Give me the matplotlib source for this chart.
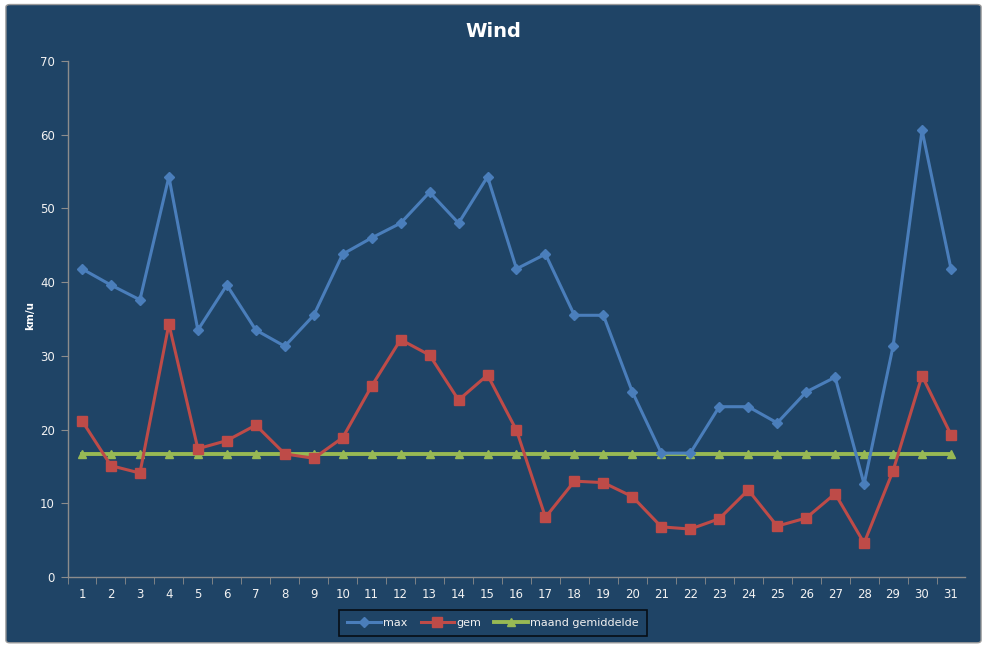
import matplotlib
matplotlib.use("Agg")
import matplotlib.pyplot as plt
from matplotlib.patches import FancyBboxPatch

days = list(range(1, 32))
wind_max = [41.8, 39.6, 37.6, 54.3, 33.5, 39.6, 33.5, 31.3, 35.5, 43.8,
            46.0, 48.0, 52.2, 48.0, 54.3, 41.8, 43.8, 35.5, 35.5, 25.1,
            16.8, 16.8, 23.1, 23.1, 20.9, 25.1, 27.1, 12.6, 31.3, 60.6, 41.8]
wind_gem = [21.2, 15.1, 14.1, 34.3, 17.4, 18.5, 20.6, 16.7, 16.1, 18.9,
            25.9, 32.2, 30.1, 24.0, 27.4, 19.9, 8.1, 13.0, 12.8, 10.9,
            6.8, 6.5, 7.9, 11.8, 6.9, 8.0, 11.3, 4.6, 14.4, 27.3, 19.3]
maand_gem = [16.7] * 31

BG = "#1f4466"
AXIS = "#8c8c8c"
TXT = "#f2f2f2"

fig = plt.figure(figsize=(9.87, 6.48), dpi=100, facecolor="white")
# chart area with thin grey frame
frame = FancyBboxPatch((0.006, 0.008), 0.988, 0.985,
                       boxstyle="round,pad=0,rounding_size=0.004",
                       transform=fig.transFigure, facecolor=BG,
                       edgecolor="#9a9a9a", linewidth=1.0, zorder=-10)
fig.patches.append(frame)

ax = fig.add_axes([0.0684, 0.1096, 0.9098, 0.7963])
ax.set_facecolor(BG)

ax.plot(days, wind_max, color="#4a7ebb", lw=2.2, marker="D", ms=5,
        label="max", zorder=3)
ax.plot(days, wind_gem, color="#be4b48", lw=2.2, marker="s", ms=6.5,
        label="gem", zorder=3)
ax.plot(days, maand_gem, color="#98b954", lw=2.8, marker="^", ms=6,
        label="maand gemiddelde", zorder=2)

ax.set_xlim(0.5, 31.5)
ax.set_ylim(0, 70)
ax.set_yticks(range(0, 71, 10))
ax.set_xticks(days)
ax.set_xticks([d + 0.5 for d in range(0, 31)], minor=True)

for side in ("top", "right"):
    ax.spines[side].set_visible(False)
for side in ("left", "bottom"):
    ax.spines[side].set_color(AXIS)
    ax.spines[side].set_linewidth(1.0)

ax.tick_params(axis="x", which="major", length=0, pad=8, labelsize=8.5,
               labelcolor=TXT)
ax.tick_params(axis="x", which="minor", length=5, color=AXIS, direction="out")
ax.tick_params(axis="y", length=5, color=AXIS, direction="out", pad=4,
               labelsize=8.5, labelcolor=TXT)

fig.text(0.031, 0.513, "km/u", color="white", fontsize=7.5,
         fontweight="bold", rotation=90, ha="center", va="center")
fig.text(0.4995, 0.951, "Wind", color="white", fontsize=14,
         fontweight="bold", ha="center", va="center")

leg = fig.legend(loc="upper center", bbox_to_anchor=(0.4995, 0.059), ncol=3,
                 frameon=True, fontsize=8, handlelength=3.0,
                 columnspacing=1.2, handletextpad=0.2, borderpad=0.75,
                 borderaxespad=0, fancybox=False)
leg.get_frame().set_facecolor(BG)
leg.get_frame().set_edgecolor("black")
leg.get_frame().set_linewidth(1.2)
for t in leg.get_texts():
    t.set_color(TXT)

fig.savefig("out.png", dpi=100, facecolor="white")
